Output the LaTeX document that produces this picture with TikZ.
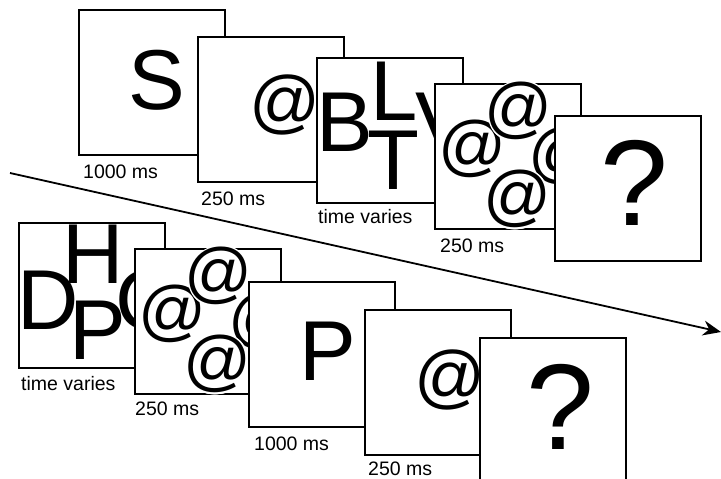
\documentclass[tikz,border=0pt]{standalone}
\usepackage{fontspec}
\setmainfont{Liberation Sans}
\usepackage{contour}
\contourlength{1.5pt}
\contournumber{12}
\usetikzlibrary{arrows.meta}
\tikzset{
  card/.style={draw=black, fill=white, line width=1.6pt, minimum width=146pt, minimum height=145pt, anchor=north west, inner sep=0pt},
  bigl/.style={font=\fontsize{85}{90}\selectfont, inner sep=0pt},
  atone/.style={font=\fontsize{70}{75}\selectfont, inner sep=0pt},
  flk/.style={font=\fontsize{67}{72}\selectfont, inner sep=0pt},
  qm/.style={font=\fontsize{122}{126}\selectfont, inner sep=0pt},
  lbl/.style={font=\fontsize{19.5}{22}\selectfont, anchor=base west, inner sep=0pt},
  timearrow/.style={line width=1.8pt, -{Stealth[length=18pt,width=15pt]}}
}
\newcommand{\flankat}{\contour{white}{@}}
\begin{document}
\begin{tikzpicture}[x=1pt,y=-1pt]
\useasboundingbox (0,0) rectangle (721,479);
\clip (0,0) rectangle (721,479);
% arrow
\coordinate (as) at (10,173);
\coordinate (ae) at (721,332);
\draw[timearrow] (as) -- (ae);
% ---------- top row ----------
\node[card] (t1) at (78,9) {};
\node[bigl] (t1s) at (157,80) {S};
\node[card] (t2) at (197,36) {};
\node[atone] (t2a) at (285,105) {@};
\node[card] (t3) at (316,57) {};
\node[bigl] (t3b) at (345,122) {B};
\node[bigl] (t3l) at (394,91) {L};
\node[bigl] (t3t) at (393,160) {T};
\node[bigl] (t3v) at (444,122) {V};
\node[card] (t4) at (434,83) {};
\node[flk] (t4l) at (473,150) {\flankat};
\node[flk] (t4t) at (519,112) {\flankat};
\node[flk] (t4r) at (563,157) {\flankat};
\node[flk] (t4b) at (518,200) {\flankat};
\node[card] (t5) at (554,115) {};
\node[qm] (t5q) at (634,183) {?};
% labels top
\node[lbl] (l1) at (83,178) {1000 ms};
\node[lbl] (l2) at (201,205) {250 ms};
\node[lbl] (l3) at (318,223) {time varies};
\node[lbl] (l4) at (440,252) {250 ms};
% ---------- bottom row ----------
\node[card] (b1) at (18,222) {};
\node[bigl] (b1d) at (48,300) {D};
\node[bigl] (b1h) at (93,254) {H};
\node[bigl] (b1p) at (98,330) {P};
\node[bigl] (b1c) at (146,300) {C};
\node[card] (b2) at (134,248) {};
\node[flk] (b2l) at (173,315) {\flankat};
\node[flk] (b2t) at (219,277) {\flankat};
\node[flk] (b2r) at (263,322) {\flankat};
\node[flk] (b2b) at (218,365) {\flankat};
\node[card] (b3) at (248,281) {};
\node[bigl] (b3p) at (328,351) {P};
\node[card] (b4) at (364,309) {};
\node[atone] (b4a) at (450,380) {@};
\node[card] (b5) at (479,337) {};
\node[qm] (b5q) at (560,407) {?};
% labels bottom
\node[lbl] (m1) at (21,390) {time varies};
\node[lbl] (m2) at (135,415) {250 ms};
\node[lbl] (m3) at (254,450) {1000 ms};
\node[lbl] (m4) at (368,475) {250 ms};
\end{tikzpicture}
\end{document}
